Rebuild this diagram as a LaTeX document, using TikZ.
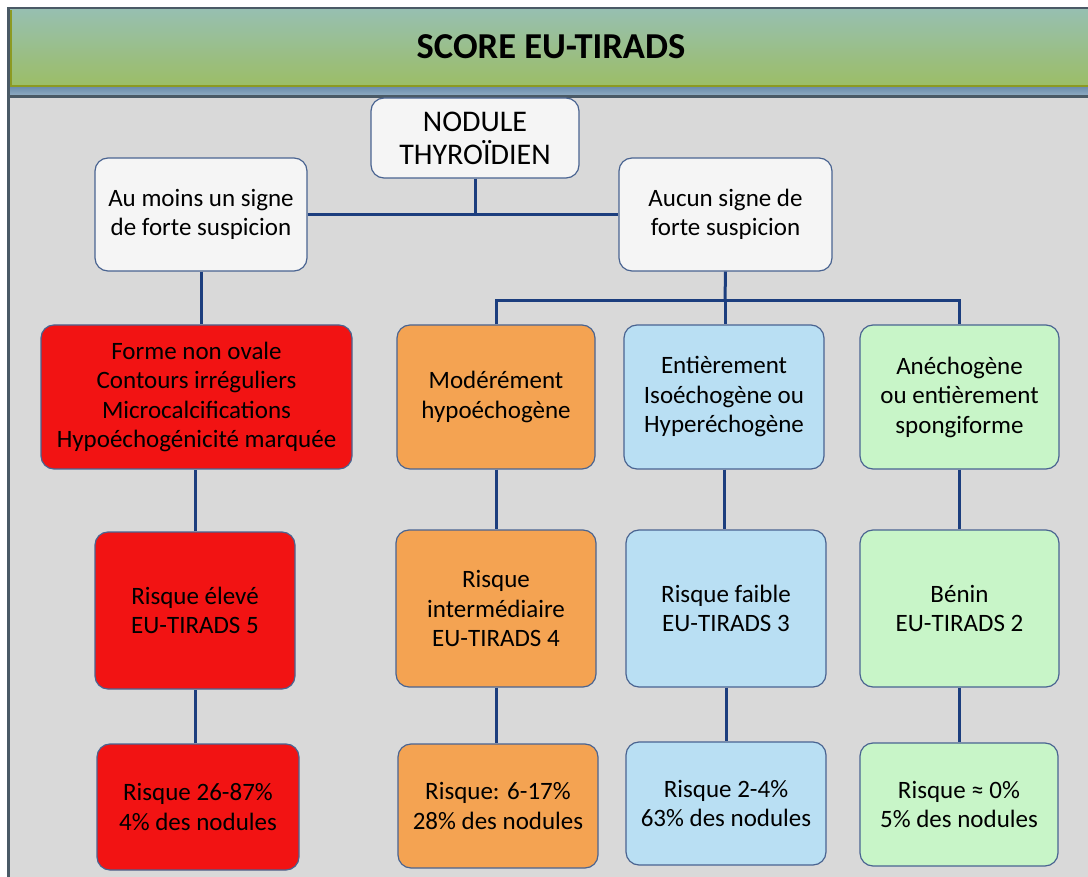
\documentclass[tikz,border=0pt]{standalone}
\usepackage{fontspec}
\setmainfont{Carlito}
\usetikzlibrary{positioning}
\definecolor{bggray}{HTML}{D9D9D9}
\definecolor{framec}{HTML}{4A5A66}
\definecolor{hdtop}{HTML}{97BFB0}
\definecolor{hdbot}{HTML}{9CBE66}
\definecolor{hdline}{HTML}{8C9A22}
\definecolor{striptop}{HTML}{6F90AE}
\definecolor{stripbot}{HTML}{8DAAC2}
\definecolor{boxline}{HTML}{4A6491}
\definecolor{linkblue}{HTML}{1C3E7E}
\definecolor{whitec}{HTML}{F5F5F5}
\definecolor{redc}{HTML}{F21313}
\definecolor{orangec}{HTML}{F4A352}
\definecolor{bluec}{HTML}{B9DFF3}
\definecolor{greenc}{HTML}{C8F5C8}

\begin{document}
\begin{tikzpicture}
[x=1pt,y=-1pt,
box/.style={draw=boxline,line width=1.2pt,rounded corners=13pt,align=center,inner sep=2pt,font=\fontsize{25}{29.5}\selectfont},
link/.style={draw=linkblue,line width=3pt}]
\useasboundingbox (0,0) rectangle (1088,877);

% frame and header
\fill[white] (0,0) rectangle (1088,877);
\fill[bggray] (10,97) rectangle (1088,877);
\fill[framec] (7,7) rectangle (1088,10);
\fill[framec] (7,7) rectangle (10,877);
\shade[top color=hdtop,bottom color=hdbot] (10,10) rectangle (1088,86);
\fill[hdline] (10,10) rectangle (11.5,86);
\fill[hdline] (10,85) rectangle (1088,87.5);
\shade[top color=striptop,bottom color=stripbot] (10,87.5) rectangle (1088,95);
\fill[framec] (10,95) rectangle (1088,98);
\node (title) at (551,47) [font=\fontsize{36.5}{40}\selectfont\bfseries] {SCORE EU-TIRADS};

% first levels
\node[box,fill=whitec,minimum width=208pt,minimum height=80pt,font=\fontsize{30}{33}\selectfont] (00) at (475,138) {NODULE\\THYROÏDIEN};
\node[box,fill=whitec,minimum width=212pt,minimum height=113pt] (11) at (201,214.5) {Au moins un signe\\de forte suspicion};
\node[box,fill=whitec,minimum width=213pt,minimum height=113pt] (12) at (725.5,214.5) {Aucun signe de\\forte suspicion};

% signs
\node[box,fill=redc,minimum width=311pt,minimum height=144pt] (21) at (196.5,397) {Forme non ovale\\Contours irréguliers\\Microcalcifications\\Hypoéchogénicité marquée};
\node[box,fill=orangec,minimum width=198pt,minimum height=144pt] (22) at (496,397) {Modérément\\hypoéchogène};
\node[box,fill=bluec,minimum width=200pt,minimum height=144pt] (23) at (724,397) {Entièrement\\Isoéchogène ou\\Hyperéchogène};
\node[box,fill=greenc,minimum width=199pt,minimum height=144pt] (24) at (959.5,397) {Anéchogène\\ou entièrement\\spongiforme};

% risk classes
\node[box,fill=redc,minimum width=200pt,minimum height=157pt] (31) at (195,610.5) {Risque élevé\\EU-TIRADS 5};
\node[box,fill=orangec,minimum width=200pt,minimum height=157pt] (32) at (496,608.5) {Risque\\intermédiaire\\EU-TIRADS 4};
\node[box,fill=bluec,minimum width=200pt,minimum height=157pt] (33) at (726,608.5) {Risque faible\\EU-TIRADS 3};
\node[box,fill=greenc,minimum width=199pt,minimum height=157pt] (34) at (959.5,608.5) {Bénin\\EU-TIRADS 2};

% percentages
\node[box,fill=redc,minimum width=202pt,minimum height=126pt] (41) at (198,807) {Risque 26-87\%\\4\% des nodules};
\node[box,fill=orangec,minimum width=200pt,minimum height=124pt] (42) at (498,806) {Risque: 6-17\%\\28\% des nodules};
\node[box,fill=bluec,minimum width=200pt,minimum height=123pt] (43) at (726,803.5) {Risque 2-4\%\\63\% des nodules};
\node[box,fill=greenc,minimum width=198pt,minimum height=123pt] (44) at (959,804.5) {Risque ≈ 0\%\\5\% des nodules};

\coordinate (bus) at (725,301);

\draw [link] (11.east) -- (12.west);
\draw [link] (00.south) -- (00.south |- 11.east);
\draw [link] (11.south) -- (11.south |- 21.north);
\draw [link] (12.south) -- (bus);
\draw [link] (22.north) |- (bus) -| (24.north);
\draw [link] (bus) -- (bus |- 23.north);

\draw [link] (31.north) -- (31.north |- 21.south);
\draw [link] (22.south) -- (32.north);
\draw [link] (23.south) -- (23.south |- 33.north);
\draw [link] (24.south) -- (34.north);

\draw [link] (41.north -| 31.south) -- (31.south);
\draw [link] (32.south) -- (32.south |- 42.north);
\draw [link] (33.south) -- (43.north);
\draw [link] (34.south) -- (34.south |- 44.north);
\end{tikzpicture}
\end{document}
